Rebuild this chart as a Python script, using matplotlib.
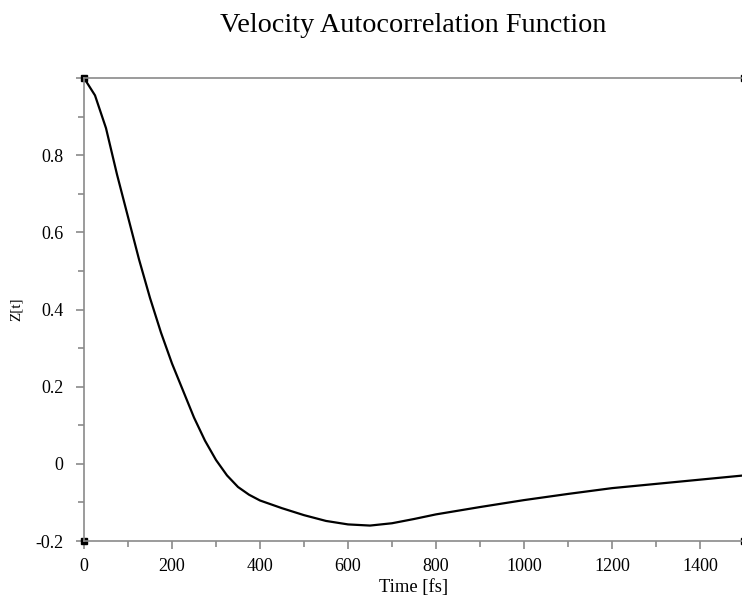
import numpy as np
import matplotlib
matplotlib.use("Agg")
import matplotlib.pyplot as plt
from matplotlib.ticker import MultipleLocator, FuncFormatter

# velocity autocorrelation
time_fs = [0, 25, 50, 75, 100, 125, 150, 175, 200, 225, 250, 275, 300, 325,
           350, 375, 400, 450, 500, 550, 600, 650, 700, 750, 800, 900, 1000,
           1100, 1200, 1300, 1400, 1500]
z_t = [1.0, 0.955, 0.87, 0.75, 0.64, 0.53, 0.43, 0.34, 0.26, 0.19, 0.12,
       0.06, 0.01, -0.03, -0.06, -0.08, -0.095, -0.115, -0.133, -0.148,
       -0.157, -0.160, -0.154, -0.143, -0.131, -0.112, -0.094, -0.078,
       -0.063, -0.052, -0.041, -0.030]

x_lim = (0, 1500)
y_lim = (-0.2, 1.0)

plt.rcParams['font.family'] = ['Liberation Serif', 'DejaVu Serif']

fig = plt.figure(figsize=(7.42, 5.99), dpi=100)
ax = fig.add_axes([84 / 742, 1 - 541 / 599, 660 / 742, 463 / 599])

ax.plot(time_fs, z_t, color='black', lw=1.6)

ax.set_xlim(*x_lim)
ax.set_ylim(*y_lim)

grey = '#8a8a8a'
for side in ['left', 'bottom', 'top']:
    ax.spines[side].set_color(grey)
    ax.spines[side].set_linewidth(1.2)
ax.spines['right'].set_visible(False)

ax.xaxis.set_major_locator(MultipleLocator(200))
ax.xaxis.set_minor_locator(MultipleLocator(100))
ax.yaxis.set_major_locator(MultipleLocator(0.2))
ax.yaxis.set_minor_locator(MultipleLocator(0.1))

def fmt(v, pos):
    if abs(v) < 1e-9:
        return '0'
    if abs(v - 1.0) < 1e-9:
        return ''
    return ('%g' % round(v, 2)).replace('\u2212', '-')

ax.yaxis.set_major_formatter(FuncFormatter(fmt))
ax.tick_params(which='major', direction='out', length=6, width=1.2, color=grey,
               labelsize=13, pad=6)
ax.tick_params(axis='y', which='major', pad=9)
ax.tick_params(which='minor', direction='out', length=4, width=1.2, color=grey)
ax.tick_params(top=False, right=False, which='both')

ax.set_xlabel('Time [fs]', fontsize=13.4, labelpad=3)
ax.set_ylabel('Z[t]', fontsize=11, labelpad=9)
fig.text(413 / 742, 1 - 25 / 599, 'Velocity Autocorrelation Function',
         ha='center', va='center', fontsize=20.3)

# corner handles
for cx in x_lim:
    for cy in y_lim:
        ax.plot([cx], [cy], marker='s', ms=5, color='black', clip_on=False)

fig.savefig('out.png', dpi=100)
